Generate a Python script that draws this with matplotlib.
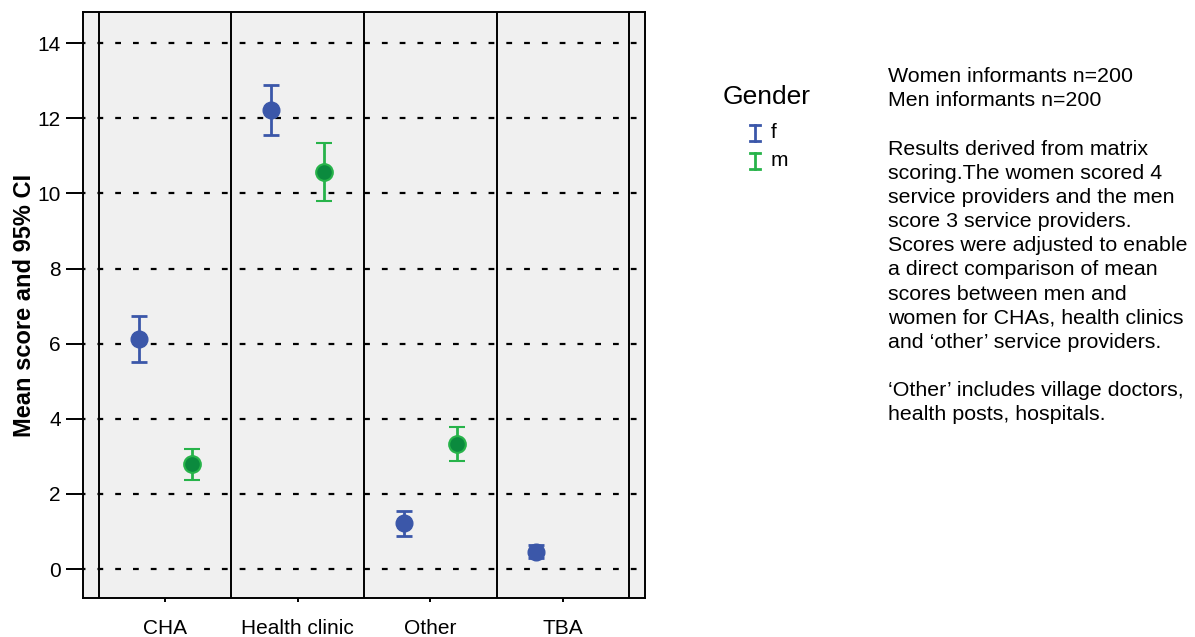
import numpy as np
import matplotlib.pyplot as plt
from matplotlib.lines import Line2D

plt.rcParams['font.family'] = ['Liberation Sans', 'DejaVu Sans']

# data
categories = ['CHA', 'Health clinic', 'Other', 'TBA']
f_mean = [6.12, 12.22, 1.22, 0.45]
f_low = [5.51, 11.55, 0.88, 0.29]
f_high = [6.73, 12.88, 1.54, 0.64]
m_cats = [0, 1, 2]
m_mean = [2.79, 10.57, 3.33]
m_low = [2.37, 9.80, 2.87]
m_high = [3.19, 11.34, 3.78]

blue = '#3b57a9'
green = '#27b34a'
green_fill = '#0b8a3e'

W, H = 1195, 637
fig = plt.figure(figsize=(W / 100, H / 100), dpi=100)
ax = fig.add_axes([83 / W, 39 / H, 562 / W, 586 / H])
ax.set_facecolor('#f0f0f0')

x = np.arange(len(categories))
off = 0.2

# gridlines and separators
for yv in range(0, 15, 2):
    ax.axhline(yv, color='black', lw=1.6, ls=(1.5, (2.6, 5.4)), zorder=1)
for xv in np.arange(-0.5, len(categories), 1.0):
    ax.axvline(xv, color='black', lw=1.4, zorder=1)

# women
xf = x - off
fm = np.array(f_mean)
ax.errorbar(xf, fm, yerr=[fm - np.array(f_low), np.array(f_high) - fm],
            fmt='o', color=blue, ms=12, capsize=5.5, capthick=2, elinewidth=2,
            mfc=blue, mec=blue, zorder=3)
# men
xm = np.array(m_cats) + off
mm = np.array(m_mean)
ax.errorbar(xm, mm, yerr=[mm - np.array(m_low), np.array(m_high) - mm],
            fmt='o', color=green, ms=12, capsize=5.5, capthick=2, elinewidth=2,
            mfc=green_fill, mec=green, mew=1.5, zorder=3)

ax.set_xlim(-0.62, 3.62)
ax.set_ylim(-0.77, 14.83)
ax.set_yticks(range(0, 15, 2))
ax.set_xticks(x)
ax.set_xticklabels(categories)
ax.tick_params(axis='y', length=12, width=1.4, labelsize=15, pad=4)
ax.tick_params(axis='x', length=3, width=1.4, labelsize=15, pad=12)
ax.set_ylabel('Mean score and 95% CI', fontsize=17, fontweight='bold', labelpad=1)
for s in ax.spines.values():
    s.set_linewidth(1.4)

# legend
fig.text(767 / W, 1 - 97 / H, 'Gender', fontsize=19, ha='center', va='center')
for col, yc, lab in [(blue, 133, 'f'), (green, 161, 'm')]:
    y0, y1 = 1 - (yc - 8) / H, 1 - (yc + 8) / H
    xc = 755 / W
    dx = 5 / W
    fig.add_artist(Line2D([xc, xc], [y0, y1], color=col, lw=2))
    fig.add_artist(Line2D([xc - dx, xc + dx], [y0, y0], color=col, lw=2))
    fig.add_artist(Line2D([xc - dx, xc + dx], [y1, y1], color=col, lw=2))
    fig.text(771 / W, 1 - yc / H, lab, fontsize=15, ha='left', va='center')

note = ('Women informants n=200\n'
        'Men informants n=200\n\n'
        'Results derived from matrix\n'
        'scoring.The women scored 4\n'
        'service providers and the men\n'
        'score 3 service providers.\n'
        'Scores were adjusted to enable\n'
        'a direct comparison of mean\n'
        'scores between men and\n'
        'women for CHAs, health clinics\n'
        'and \u2018other\u2019 service providers.\n\n'
        '\u2018Other\u2019 includes village doctors,\n'
        'health posts, hospitals.')
fig.text(888 / W, 1 - 67 / H, note, fontsize=15.4, ha='left', va='top', linespacing=1.345)

fig.savefig('out.png', dpi=100)
